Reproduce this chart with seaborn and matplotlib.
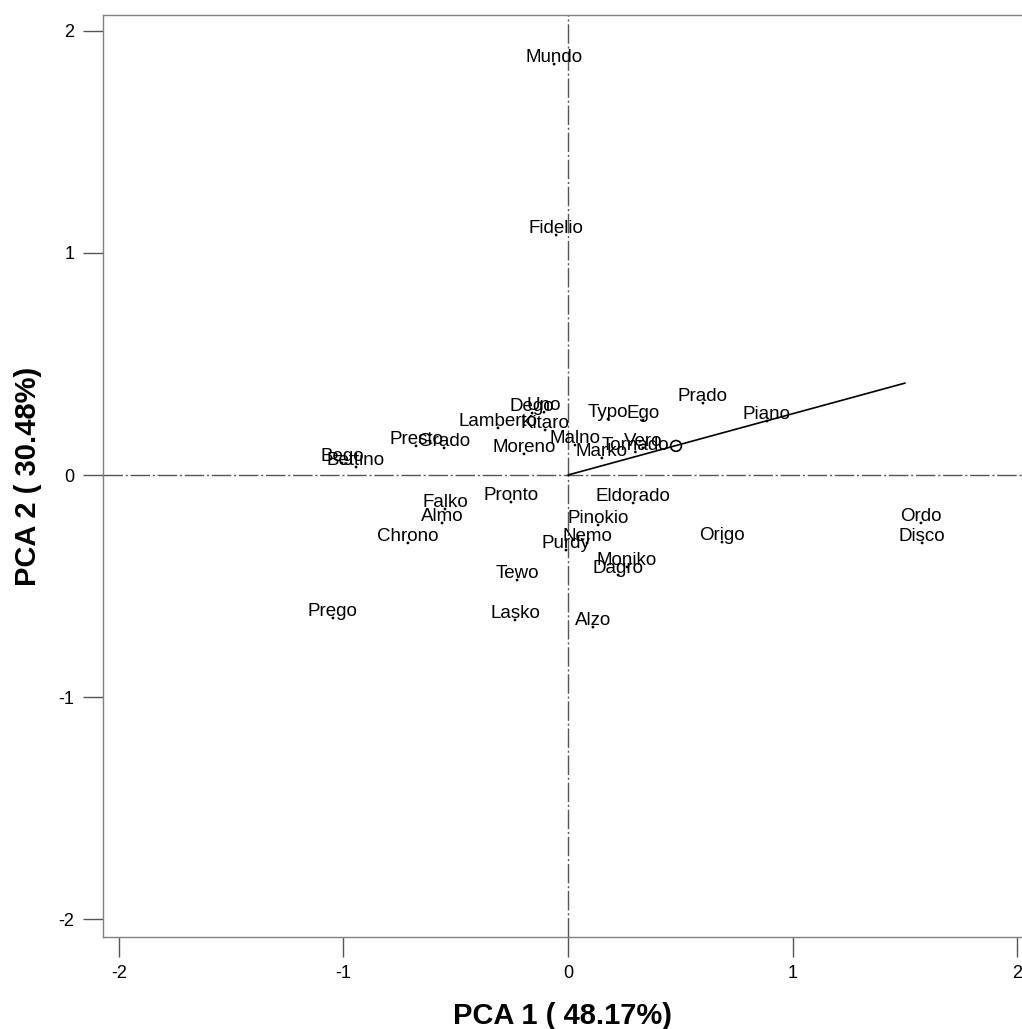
import matplotlib
matplotlib.use("Agg")
import matplotlib.pyplot as plt
import seaborn as sns
import pandas as pd

# Sample scores on the first two principal components
names = ["Mundo", "Fidelio", "Prado", "Piano", "Typo", "Ego", "Vero", "Tornado",
         "Marko", "Malno", "Kitaro", "Dego", "Uno", "Lamberto", "Moreno",
         "Presto", "Grado", "Bego", "Bettino", "Pronto", "Falko", "Almo",
         "Chrono", "Prego", "Tewo", "Lasko", "Alzo", "Eldorado", "Pinokio",
         "Nemo", "Purdy", "Moniko", "Dagro", "Origo", "Ordo", "Disco"]
pc1 = [-0.062, -0.053, 0.601, 0.886, 0.178, 0.334, 0.334, 0.300,
       0.151, 0.031, -0.102, -0.160, -0.107, -0.312, -0.196,
       -0.677, -0.552, -1.007, -0.944, -0.254, -0.548, -0.561,
       -0.713, -1.047, -0.227, -0.236, 0.111, 0.290, 0.134,
       0.085, -0.009, 0.263, 0.223, 0.686, 1.572, 1.577]
pc2 = [1.851, 1.081, 0.324, 0.243, 0.252, 0.248, 0.122, 0.104,
       0.077, 0.135, 0.203, 0.279, 0.283, 0.212, 0.095,
       0.131, 0.122, 0.054, 0.036, -0.122, -0.153, -0.216,
       -0.306, -0.644, -0.473, -0.653, -0.685, -0.126, -0.225,
       -0.306, -0.338, -0.414, -0.450, -0.302, -0.216, -0.306]

# Fitted vector and a supplementary point lying on it
vector_x = [0.0, 1.501]
vector_y = [0.0, 0.414]
supp_x = [0.481]
supp_y = [0.131]

ticks = [-2, -1, 0, 1, 2]
x_label = "PCA 1 ( 48.17%)"
y_label = "PCA 2 ( 30.48%)"

sns.set_style("white")
plt.rcParams["font.family"] = ["Liberation Sans", "DejaVu Sans"]
plt.rcParams["text.color"] = "black"
plt.rcParams["axes.labelcolor"] = "black"
plt.rcParams["xtick.labelcolor"] = "black"
plt.rcParams["ytick.labelcolor"] = "black"

df = pd.DataFrame({"name": names, "pc1": pc1, "pc2": pc2})

fig = plt.figure(figsize=(10.22, 10.29), dpi=100)
ax = fig.add_axes([103 / 1022, 92 / 1029, 919 / 1022, 922 / 1029])

# Reference axes through the origin
line_kw = dict(color="#555555", lw=1.0, dashes=(14, 2, 1.5, 2), zorder=1)
ax.axhline(0, **line_kw)
ax.axvline(0, **line_kw)

sns.scatterplot(data=df, x="pc1", y="pc2", ax=ax, color="black", s=4,
                edgecolor="none", zorder=3, legend=False)

for n, x, y in zip(names, pc1, pc2):
    ax.annotate(n, (x, y), xytext=(0, 2), textcoords="offset pixels",
                ha="center", va="baseline", fontsize=13.5, color="black",
                zorder=4)

ax.plot(vector_x, vector_y, color="black", lw=1.2, zorder=2)
ax.scatter(supp_x, supp_y, s=60, facecolors="none", edgecolors="black",
           linewidths=1.2, zorder=3)

ax.set_xlim(-2.071, 2.022)
ax.set_ylim(-2.081, 2.072)
ax.set_xticks(ticks)
ax.set_yticks(ticks)
ax.set_xticklabels([str(t) for t in ticks])
ax.set_yticklabels([str(t) for t in ticks])
ax.tick_params(axis="both", direction="out", length=14.5, width=1.0,
               color="#555555", labelsize=13, pad=6, bottom=True, left=True)

for side in ["left", "bottom", "top"]:
    ax.spines[side].set_visible(True)
    ax.spines[side].set_color("#808080")
    ax.spines[side].set_linewidth(1.0)
ax.spines["right"].set_visible(False)

ax.set_xlabel(x_label, fontsize=21, fontweight="bold", labelpad=14)
ax.set_ylabel(y_label, fontsize=21, fontweight="bold", labelpad=12)

fig.savefig("out.png", dpi=100, facecolor="white")
